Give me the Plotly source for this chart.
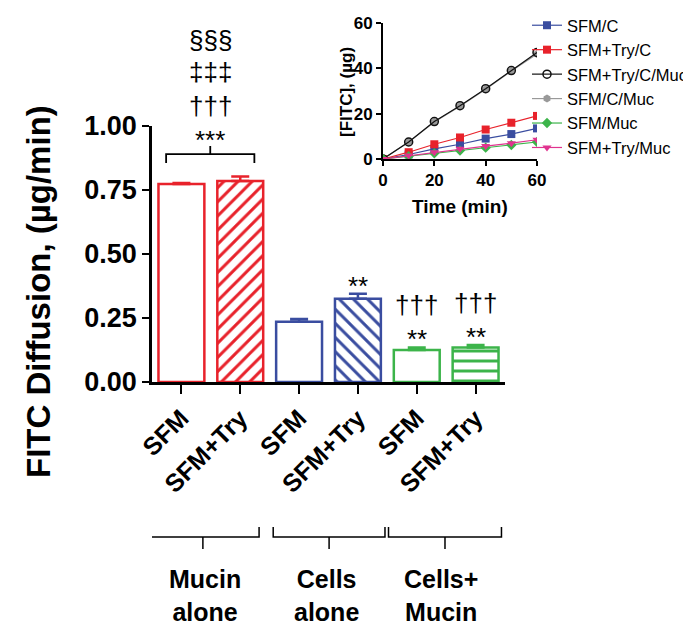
import plotly.graph_objects as go

# ---------------- data ----------------
bar_labels = ["SFM", "SFM+Try", "SFM", "SFM+Try", "SFM", "SFM+Try"]
bar_values = [0.773, 0.785, 0.235, 0.325, 0.125, 0.135]
bar_errors = [0.004, 0.018, 0.011, 0.020, 0.010, 0.010]
bar_colors = ["#E8222B", "#E8222B", "#3A4DA0", "#3A4DA0", "#3CB44A", "#3CB44A"]
bar_patterns = ["", "/", "", "\\", "", "-"]
group_labels = ["Mucin<br>alone", "Cells<br>alone", "Cells+<br>Mucin"]

time_min = [0, 10, 20, 30, 40, 50, 60]
inset_names = ["SFM/C", "SFM+Try/C", "SFM+Try/C/Muc", "SFM/C/Muc", "SFM/Muc", "SFM+Try/Muc"]
inset_values = {
    "SFM/C": [0, 2.0, 4.5, 6.5, 9.0, 11.0, 13.5],
    "SFM+Try/C": [0, 3.0, 6.5, 9.5, 13.0, 16.0, 19.0],
    "SFM+Try/C/Muc": [0, 7.5, 16.5, 23.5, 31.0, 39.0, 47.0],
    "SFM/C/Muc": [0, 7.5, 16.3, 23.3, 30.8, 38.8, 46.3],
    "SFM/Muc": [0, 1.2, 2.5, 3.7, 5.0, 6.2, 7.5],
    "SFM+Try/Muc": [0, 1.5, 3.0, 4.5, 5.7, 7.0, 8.5],
}
inset_colors = {"SFM/C": "#3A4DA0", "SFM+Try/C": "#E8222B", "SFM+Try/C/Muc": "#111111",
                "SFM/C/Muc": "#999999", "SFM/Muc": "#3CB44A", "SFM+Try/Muc": "#E0338F"}
inset_symbols = {"SFM/C": "square", "SFM+Try/C": "square", "SFM+Try/C/Muc": "circle-open",
                 "SFM/C/Muc": "hexagon", "SFM/Muc": "diamond", "SFM+Try/Muc": "triangle-down"}

FONT = "Arial, Liberation Sans, sans-serif"
OFF = 8                     # page body margin of the html page
W, H = 691 - OFF, 634 - OFF

fig = go.Figure()

# ---------------- main bars ----------------
for i, (v, e, c, p) in enumerate(zip(bar_values, bar_errors, bar_colors, bar_patterns)):
    fig.add_trace(go.Bar(
        x=[i], y=[v], width=0.78, showlegend=False,
        marker=dict(color="white", line=dict(color=c, width=2.5),
                    pattern=dict(shape=p, fgcolor=c, bgcolor="white", fgopacity=1,
                                 size=10, solidity=0.3)),
        error_y=dict(type="data", array=[e], arrayminus=[0], symmetric=False,
                     color=c, thickness=2.5, width=9),
        xaxis="x", yaxis="y",
    ))

# ---------------- inset ----------------
order = ["SFM/C", "SFM+Try/C", "SFM/C/Muc", "SFM+Try/C/Muc", "SFM/Muc", "SFM+Try/Muc"]
for name in order:
    col = inset_colors[name]
    sym = inset_symbols[name]
    fig.add_trace(go.Scatter(
        x=time_min, y=inset_values[name], name=name, mode="lines+markers",
        legendrank=inset_names.index(name) + 1,
        line=dict(color=col, width=1.2),
        marker=dict(symbol=sym, size=8, color=col,
                    line=dict(color=col, width=1.5 if "open" in sym else 0)),
        xaxis="x2", yaxis="y2",
    ))


def px_x(x):
    return (x - OFF) / W


def px_y(y):
    return 1 - (y - OFF) / H


annotations = []
shapes = []

# y-axis title main
annotations.append(dict(text="<b>FITC Diffusion, (µg/min)</b>", x=px_x(38), y=px_y(292),
                        xref="paper", yref="paper", textangle=-90, showarrow=False,
                        font=dict(family=FONT, size=33, color="black"),
                        xanchor="center", yanchor="middle"))

# top bracket above mucin bars
shapes.append(dict(type="path", xref="x", yref="y",
                   path="M -0.26,0.855 L -0.26,0.89 L 1.24,0.89 L 1.24,0.855",
                   line=dict(color="black", width=1.8)))
shapes.append(dict(type="line", xref="x", yref="y", x0=0.49, x1=0.49, y0=0.89, y1=0.922,
                   line=dict(color="black", width=1.8)))

sym_font = dict(family=FONT, size=26, color="black")
for txt, ypx in [("***", 140), ("†††", 106), ("‡‡‡", 72), ("§§§", 40)]:
    annotations.append(dict(text=txt, x=0.49, y=px_y(ypx), xref="x", yref="paper", showarrow=False,
                            font=sym_font, xanchor="center", yanchor="middle"))

# significance marks over other bars
marks = {3: ["**"], 4: ["**", "†††"], 5: ["**", "†††"]}
for i, lst in marks.items():
    top = bar_values[i] + bar_errors[i]
    for k, txt in enumerate(lst):
        annotations.append(dict(text=txt, x=i, y=top, xref="x", yref="y", showarrow=False,
                                font=sym_font, xanchor="center", yanchor="middle",
                                yshift=(8 if k == 0 else 42)))

# group brackets and labels
group_spans = [(-0.59, 1.32), (1.56, 3.46), (3.52, 5.44)]
label_x = [0.4, 2.47, 4.42]
for (a, b), lx, lab in zip(group_spans, label_x, group_labels):
    mid = (a + b) / 2
    shapes.append(dict(type="path", xref="x", yref="paper",
                       path=f"M {a},{px_y(527)} L {a},{px_y(537)} L {b},{px_y(537)} L {b},{px_y(527)}",
                       line=dict(color="black", width=1.5)))
    shapes.append(dict(type="line", xref="x", yref="paper", x0=mid, x1=mid,
                       y0=px_y(537), y1=px_y(549), line=dict(color="black", width=1.5)))
    annotations.append(dict(text=f"<b>{lab}</b>", x=lx, y=px_y(595), xref="x", yref="paper",
                            showarrow=False, align="center",
                            font=dict(family=FONT, size=25, color="black"),
                            xanchor="center", yanchor="middle"))

# inset titles
annotations.append(dict(text="<b>Time (min)</b>", x=px_x(460), y=px_y(206), xref="paper", yref="paper",
                        showarrow=False, font=dict(family=FONT, size=19, color="black"),
                        xanchor="center", yanchor="middle"))
annotations.append(dict(text="<b>[FITC], (µg)</b>", x=px_x(347), y=px_y(92), xref="paper", yref="paper",
                        textangle=-90, showarrow=False, font=dict(family=FONT, size=17, color="black"),
                        xanchor="center", yanchor="middle"))

fig.update_layout(
    width=W, height=H,
    margin=dict(l=0, r=0, t=0, b=0, autoexpand=False),
    paper_bgcolor="white", plot_bgcolor="white",
    barmode="overlay",
    font=dict(family=FONT, color="black"),
    xaxis=dict(domain=[px_x(152), px_x(505)], range=[-0.5, 5.5], automargin=False,
               tickmode="array", tickvals=list(range(len(bar_labels))),
               ticktext=[f"<b>{t}</b>" for t in bar_labels], tickangle=-45,
               tickfont=dict(family=FONT, size=25, color="black"),
               showline=True, linecolor="black", linewidth=2.5,
               ticks="outside", ticklen=9, tickwidth=2, tickcolor="black",
               showgrid=False, zeroline=False, anchor="y"),
    yaxis=dict(domain=[px_y(382), px_y(126)], range=[0, 1.0], automargin=False,
               tickmode="array", tickvals=[0, 0.25, 0.5, 0.75, 1.0],
               ticktext=["<b>0.00</b>", "<b>0.25</b>", "<b>0.50</b>", "<b>0.75</b>", "<b>1.00</b>"],
               tickfont=dict(family=FONT, size=27, color="black"),
               showline=True, linecolor="black", linewidth=2.5,
               ticks="outside", ticklen=7, tickwidth=2, tickcolor="black",
               showgrid=False, zeroline=False, anchor="x"),
    xaxis2=dict(domain=[px_x(383), px_x(537)], range=[0, 60], automargin=False,
                tickvals=[0, 20, 40, 60], ticktext=["<b>0</b>", "<b>20</b>", "<b>40</b>", "<b>60</b>"],
                tickfont=dict(family=FONT, size=17, color="black"),
                showline=True, linecolor="black", linewidth=2,
                ticks="outside", ticklen=5, tickwidth=2, tickcolor="black",
                showgrid=False, zeroline=False, anchor="y2"),
    yaxis2=dict(domain=[px_y(159), px_y(23)], range=[0, 60], automargin=False,
                tickvals=[0, 20, 40, 60], ticktext=["<b>0</b>", "<b>20</b>", "<b>40</b>", "<b>60</b>"],
                tickfont=dict(family=FONT, size=17, color="black"),
                showline=True, linecolor="black", linewidth=2,
                ticks="outside", ticklen=5, tickwidth=2, tickcolor="black",
                showgrid=False, zeroline=False, anchor="x2"),
    legend=dict(x=px_x(527), y=px_y(8), xanchor="left", yanchor="top",
                font=dict(family=FONT, size=16.5, color="black"),
                bgcolor="rgba(0,0,0,0)", tracegroupgap=0, itemwidth=30,
                traceorder="normal"),
    shapes=shapes, annotations=annotations,
)

fig.write_html("out.html")
